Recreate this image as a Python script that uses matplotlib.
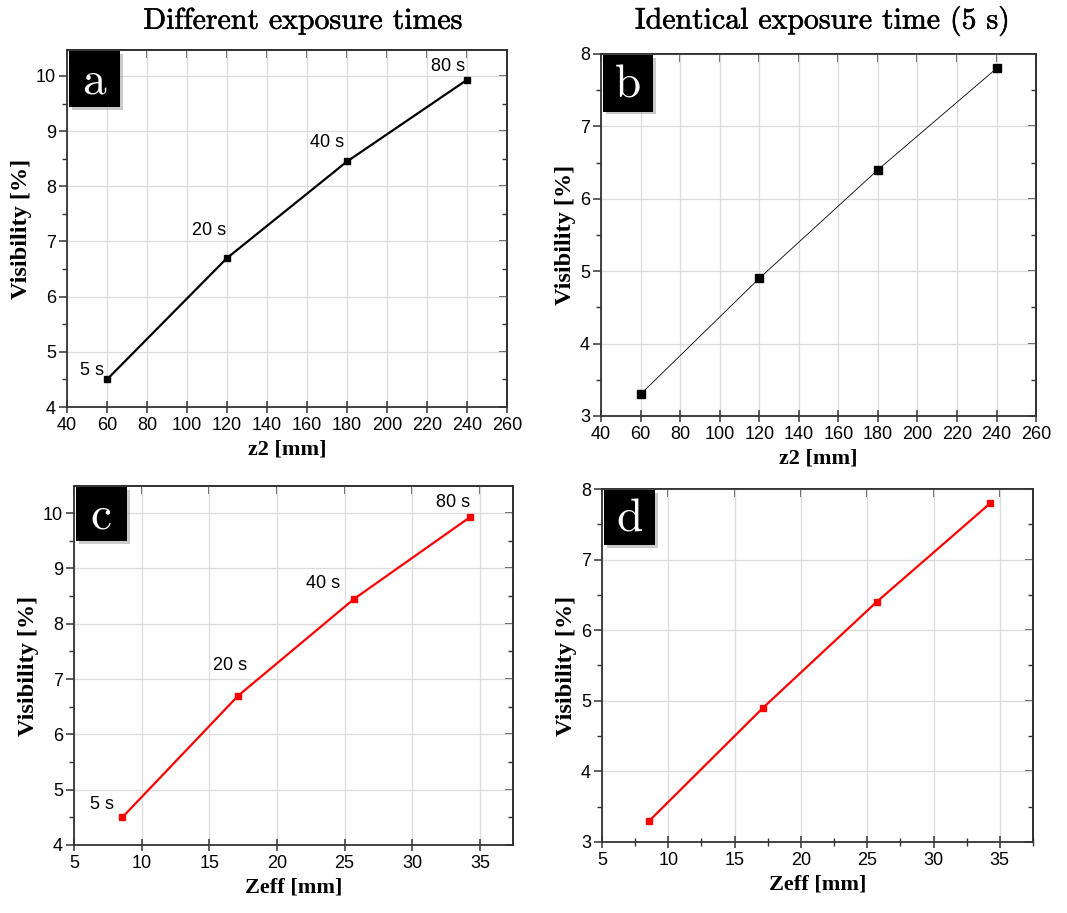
import matplotlib
matplotlib.use("Agg")
import matplotlib.pyplot as plt
import matplotlib.patheffects as pe
from matplotlib.patches import Rectangle
from matplotlib.ticker import MultipleLocator

# z2 distances and measured visibility
z2 = [60, 120, 180, 240]
zeff = [8.57, 17.14, 25.71, 34.29]
vis_diff = [4.5, 6.7, 8.45, 9.93]      # different exposure times
vis_same = [3.3, 4.9, 6.4, 7.8]        # identical exposure time (5 s)
exposure = ["5 s", "20 s", "40 s", "80 s"]

# label anchor positions (data coords)
lab_z2 = [(52.5, 4.67), (111, 7.2), (170, 8.8), (230.5, 10.18)]
lab_zeff = [(7.1, 4.74), (16.5, 7.25), (23.4, 8.72), (33.0, 10.2)]

plt.rcParams['font.family'] = ['Liberation Sans', 'DejaVu Sans']

fig = plt.figure(figsize=(10.67, 9.13), dpi=100)

SPINE = '#333333'
GRID = '#dcdcdc'
xlabel_font = dict(family='Liberation Serif', weight='bold', size=16)
ylabel_font = dict(family='Liberation Serif', weight='bold', size=17.5)


def style_axes(ax, xlim, ylim, xmajor, ymajor, xminor=None, yminor=None):
    ax.set_xlim(*xlim)
    ax.set_ylim(*ylim)
    ax.xaxis.set_major_locator(MultipleLocator(xmajor))
    ax.yaxis.set_major_locator(MultipleLocator(ymajor))
    if xminor:
        ax.xaxis.set_minor_locator(MultipleLocator(xminor))
    if yminor:
        ax.yaxis.set_minor_locator(MultipleLocator(yminor))
    ax.grid(True, which='major', color=GRID, lw=0.9)
    ax.set_axisbelow(True)
    for sp in ax.spines.values():
        sp.set_color(SPINE)
        sp.set_linewidth(1.3)
    ax.tick_params(which='major', direction='out', length=6, width=1.1,
                   color=SPINE, labelsize=13, pad=2)
    ax.tick_params(which='minor', direction='out', length=3.5, width=1.0,
                   color=SPINE)
    ax.tick_params(axis='x', which='major', direction='inout', length=9,
                   pad=3)
    ax.tick_params(axis='x', which='minor', direction='inout', length=6)
    # mirrored ticks on top and right pointing inward
    top = ax.secondary_xaxis('top')
    top.xaxis.set_major_locator(MultipleLocator(xmajor))
    right = ax.secondary_yaxis('right')
    right.yaxis.set_major_locator(MultipleLocator(ymajor))
    if yminor:
        right.yaxis.set_minor_locator(MultipleLocator(yminor))
    for sec in (top, right):
        sec.tick_params(which='major', direction='in', length=6, width=1.1,
                        color=SPINE, labeltop=False, labelright=False)
        sec.tick_params(which='minor', direction='in', length=3.5, width=1.0,
                        color=SPINE)
        for sp in sec.spines.values():
            sp.set_color(SPINE)
            sp.set_linewidth(1.3)


def panel_tag(ax, letter, w, h):
    # gray drop shadow then the black box with a white letter
    ax.add_patch(Rectangle((0.004 + 0.008, 1 - h - 0.012), w, h,
                           transform=ax.transAxes, fc='#8a8a8a', alpha=0.45,
                           ec='none', zorder=5, clip_on=False))
    ax.add_patch(Rectangle((0.004, 1 - h - 0.004), w, h,
                           transform=ax.transAxes, fc='black', ec='none',
                           zorder=6, clip_on=False))
    ax.text(0.004 + w / 2, 1 - h / 2 - 0.01, letter, transform=ax.transAxes,
            ha='center', va='center', color='white', family='cmr10',
            fontsize=34, zorder=7)


# a: different exposure times vs z2
ax_a = fig.add_axes([0.0628, 0.5542, 0.4124, 0.391])
ax_a.plot(z2, vis_diff, color='black', lw=1.6, marker='s', ms=5)
style_axes(ax_a, (40, 260), (4, 10.47), 20, 1, yminor=0.5)
for t, (x, y) in zip(exposure, lab_z2):
    ax_a.text(x, y, t, ha='center', va='center', fontsize=13)
panel_tag(ax_a, 'a', 0.116, 0.155)

# b: identical exposure vs z2
ax_b = fig.add_axes([0.5633, 0.5444, 0.4077, 0.3965])
ax_b.plot(z2, vis_same, color='black', lw=0.6, marker='s', ms=5.4)
style_axes(ax_b, (40, 260), (3, 8), 20, 1, yminor=0.5)
panel_tag(ax_b, 'b', 0.115, 0.155)

# c: different exposure times vs Zeff
ax_c = fig.add_axes([0.0694, 0.0745, 0.4114, 0.3932])
ax_c.plot(zeff, vis_diff, color='#ff0000', lw=1.6, marker='s', ms=4.6)
style_axes(ax_c, (5, 37.45), (4, 10.49), 5, 1, yminor=0.5)
for t, (x, y) in zip(exposure, lab_zeff):
    ax_c.text(x, y, t, ha='center', va='center', fontsize=13)
panel_tag(ax_c, 'c', 0.116, 0.15)

# d: identical exposure vs Zeff
ax_d = fig.add_axes([0.5642, 0.0778, 0.4039, 0.3866])
ax_d.plot(zeff, vis_same, color='#ff0000', lw=1.6, marker='s', ms=4.8)
style_axes(ax_d, (5, 37.5), (3, 8), 5, 1, xminor=2.5, yminor=0.5)
panel_tag(ax_d, 'd', 0.118, 0.155)

for ax in (ax_a, ax_b):
    ax.set_xlabel('z2 [mm]', fontdict=xlabel_font, labelpad=4)
for ax in (ax_c, ax_d):
    ax.set_xlabel('Zeff [mm]', fontdict=xlabel_font, labelpad=4)
for ax in (ax_a, ax_b, ax_c, ax_d):
    ax.set_ylabel('Visibility [%]', fontdict=ylabel_font, labelpad=3)

heavy = [pe.withStroke(linewidth=0.4, foreground='black')]
fig.text(0.284, 0.977, 'Different exposure times', ha='center', va='center',
         family='cmr10', fontsize=21.5, path_effects=heavy)
fig.text(0.771, 0.977, 'Identical exposure time (5 s)', ha='center',
         va='center', family='cmr10', fontsize=21.5, path_effects=heavy)

fig.savefig('out.png', dpi=100)
